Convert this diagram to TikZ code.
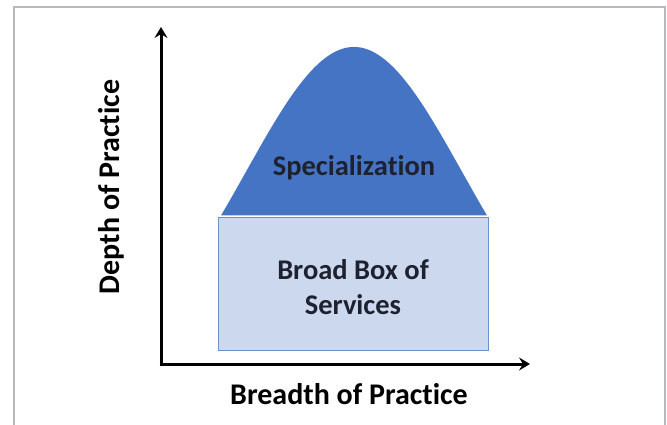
\documentclass[tikz,border=0pt]{standalone}
\usepackage{fontspec}
\setmainfont{Carlito}[RawFeature=-liga]
\usetikzlibrary{arrows.meta}
\definecolor{framegray}{RGB}{184,184,192}
\definecolor{bellblue}{RGB}{70,116,196}
\definecolor{boxblue}{RGB}{203,216,237}
\definecolor{boxedge}{RGB}{110,145,205}
\definecolor{labelink}{RGB}{30,34,48}
\begin{document}
\begin{tikzpicture}[x=1pt,y=-1pt,
  axis/.style={line width=3pt,-{Stealth[length=11pt,width=13pt,inset=4pt]}},
  axislabel/.style={font=\fontsize{30}{34}\selectfont\bfseries,text=black},
  innerlabel/.style={font=\fontsize{28.5}{35}\selectfont\bfseries,text=labelink,align=center},
  servicebox/.style={draw=boxedge,line width=0.8pt,fill=boxblue,minimum width=270pt,minimum height=133pt,inner sep=0pt}]
  \useasboundingbox (0,0) rectangle (667,424);
  % outer frame, open at the bottom
  \draw[framegray,line width=2pt] (14,425) -- (14,7) -- (665,7) -- (665,425);
  % bell of specialization
  \fill[bellblue] plot[domain=221:487,samples=100,smooth]
    (\x,{364-317*exp(-0.5*((\x-354)/108)^2)}) -- cycle;
  % broad box of services
  \node[servicebox] (box) at (353.5,283.5) {};
  \node[innerlabel] (spec) at (354,168) {Specialization};
  \node[innerlabel] (broad) at (353,287) {Broad Box of\\Services};
  % axes
  \coordinate (origin) at (161,364);
  \coordinate (ytip) at (161,27);
  \coordinate (xtip) at (530,364);
  \draw[axis] ([yshift=1.5pt]origin) -- (ytip);
  \draw[axis] ([xshift=-1.5pt]origin) -- (xtip);
  \node[axislabel] (xlab) at (349,394) {Breadth of Practice};
  \node[axislabel,rotate=90] (ylab) at (111,187) {Depth of Practice};
\end{tikzpicture}
\end{document}
